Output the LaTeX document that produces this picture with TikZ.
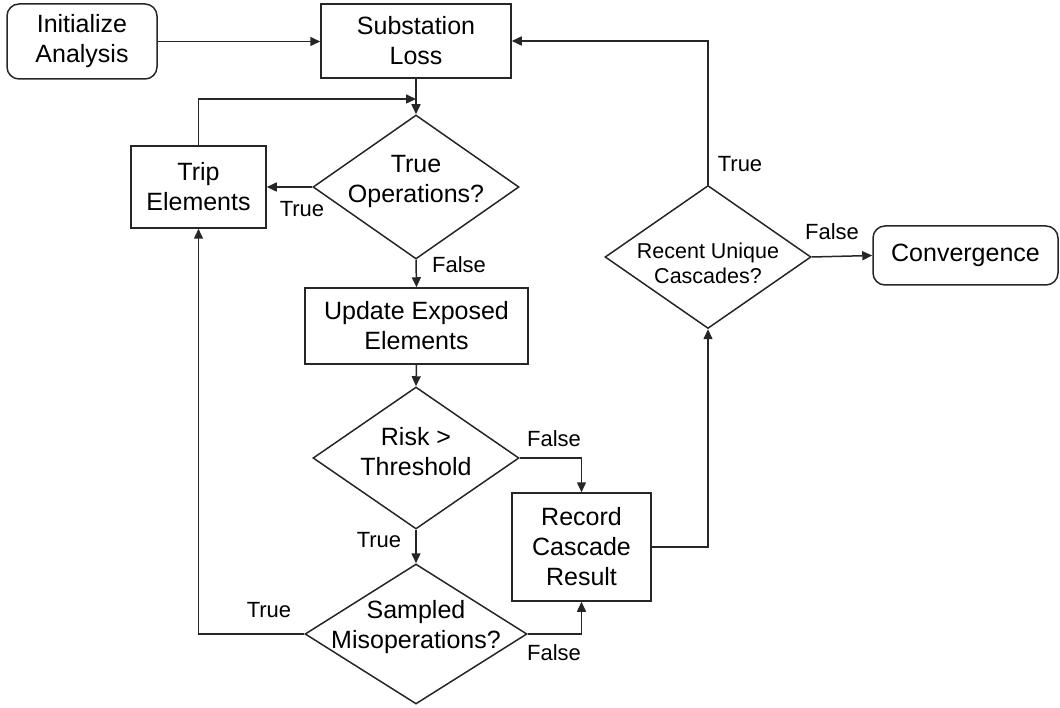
\documentclass[tikz,border=0pt]{standalone}
\usepackage{fontspec}
\setmainfont{Liberation Sans}
\usetikzlibrary{shapes.geometric,arrows.meta}
\definecolor{linec}{HTML}{262626}
\begin{document}
\begin{tikzpicture}[x=1pt,y=-1pt]
\tikzset{
 proc/.style={draw=linec, line width=1.5pt, inner sep=0pt, align=center, font=\fontsize{25}{30}\selectfont},
 term/.style={proc, rounded corners=12pt},
 dec/.style={draw=linec, line width=1.5pt, diamond, inner sep=0pt},
 dtext/.style={align=center, inner sep=0pt, font=\fontsize{25}{30}\selectfont},
 lab/.style={inner sep=0pt, font=\fontsize{22}{26}\selectfont},
 arr/.style={draw=linec, line width=1.5pt, -{Triangle[length=10pt,width=9pt]}},
}
\useasboundingbox (0,0) rectangle (1060,708);

\node[term, minimum width=150pt, minimum height=75pt] (init) at (82,41.5) {Initialize\\Analysis};
\node[proc, minimum width=190pt, minimum height=74pt] (sub) at (416,41) {Substation\\Loss};
\node[dec, minimum width=206pt, minimum height=144pt] (ops) at (416,187) {};
\node[dtext] (opsT) at (416,181) {True\\Operations?};
\node[proc, minimum width=135pt, minimum height=82pt] (trip) at (198.5,187) {Trip\\Elements};
\node[proc, minimum width=223pt, minimum height=76pt] (upd) at (416.5,326) {Update Exposed\\Elements};
\node[dec, minimum width=206pt, minimum height=142pt] (risk) at (416,458) {};
\node[dtext] (riskT) at (416,452) {Risk >\\Threshold};
\node[dec, minimum width=222pt, minimum height=140pt] (samp) at (416,634) {};
\node[dtext] (sampT) at (416,627) {Sampled\\Misoperations?};
\node[proc, minimum width=139pt, minimum height=108pt] (rec) at (581.5,547) {Record\\Cascade\\Result};
\node[dec, minimum width=206pt, minimum height=143pt] (rcnt) at (708,257) {};
\node[dtext, font=\fontsize{21.5}{25}\selectfont] (rcntT) at (708,263) {Recent Unique\\Cascades?};
\node[term, minimum width=185pt, minimum height=59pt] (conv) at (965.5,255.5) {Convergence};

\coordinate (loopend) at (416,99);

\draw[arr] (init.east) -- (init.east -| sub.west);
\draw[arr] (rcnt.north) |- (sub.east);
\draw[arr] (sub.south) -- (ops.north);
\draw[arr] (trip.north) |- (loopend);
\draw[arr] (ops.west) -- (trip.east);
\draw[arr] (ops.south) -- (upd.north);
\draw[arr] (upd.south) -- (risk.north);
\draw[arr] (risk.east) -| (rec.north);
\draw[arr] (risk.south) -- (samp.north);
\draw[arr] (samp.west) -| (trip.south);
\draw[arr] (samp.east) -| (rec.south);
\draw[arr] (rec.east) -| (rcnt.south);
\draw[arr] (rcnt.east) -- (conv.west);

\node[lab] (l1) at (740,164) {True};
\node[lab] (l2) at (832,232) {False};
\node[lab] (l3) at (302,209) {True};
\node[lab] (l4) at (459,265) {False};
\node[lab] (l5) at (554,439) {False};
\node[lab] (l6) at (379,540) {True};
\node[lab] (l7) at (269,610) {True};
\node[lab] (l8) at (554,653) {False};
\end{tikzpicture}
\end{document}
